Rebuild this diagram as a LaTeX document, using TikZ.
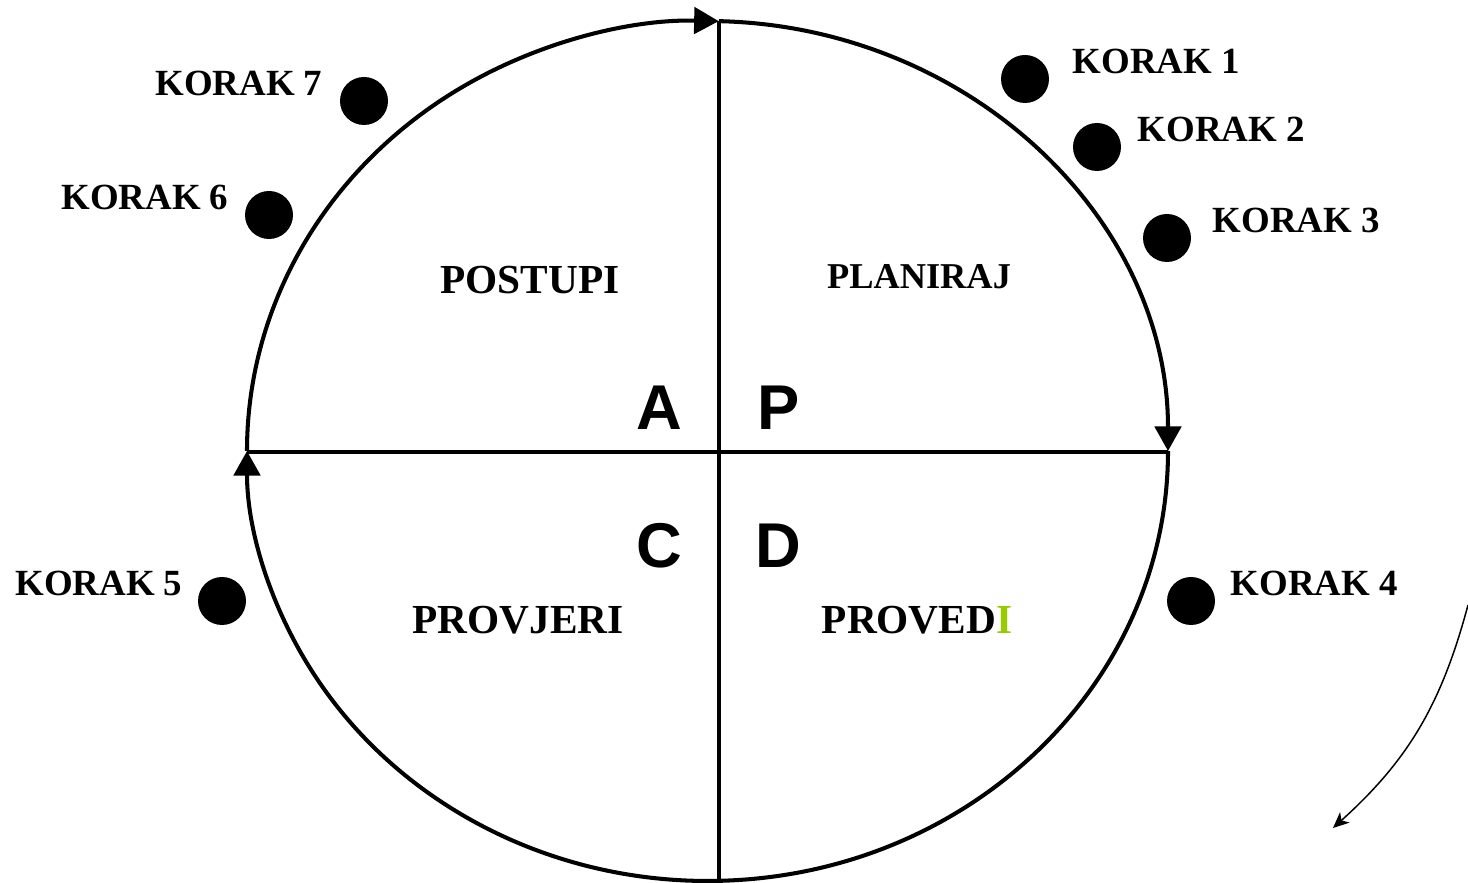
\documentclass[tikz,border=0pt]{standalone}
\usepackage{fontspec}
\setmainfont{Liberation Serif}
\newfontfamily\arialfont{Liberation Sans}
\usetikzlibrary{arrows.meta,positioning}
\definecolor{igreen}{HTML}{99CC00}
\begin{document}
\begin{tikzpicture}[x=0.2mm,y=0.2mm,
    dot/.style={circle,fill=black,inner sep=0pt,minimum size=9.6mm},
    korak/.style={inner sep=0pt,font=\fontsize{21}{21}\selectfont\bfseries},
    faza/.style={anchor=base,inner sep=0pt,font=\fontsize{23.5}{23.5}\selectfont\bfseries},
    slovo/.style={inner sep=0pt,font=\arialfont\fontsize{36}{36}\selectfont\bfseries},
    tip/.style={-{Triangle[length=14pt,width=15pt]}},
    rim/.style={x radius=460.5,y radius=430}]
                \useasboundingbox (0,0) rectangle (1468,883);
                %% circle, drawn in four quarters
                \coordinate (o) at (707.5,432);
                \begin{scope}[line width=2.3pt]
                \draw[tip] (o) ++(180:460.5 and 430) arc[rim,start angle=180,end angle=88.6];
                \draw[tip] (o) ++(88.6:460.5 and 430) arc[rim,start angle=88.6,end angle=0];
                \draw (o) ++(0:460.5 and 430) arc[rim,start angle=0,end angle=-88.6];
                \draw[tip] (o) ++(-88.6:460.5 and 430) arc[rim,start angle=-88.6,end angle=-180];
                %% cross
                \draw (719,862) -- (719,0);
                \draw (247,431) -- (1168,431);
                \end{scope}
                %% phases
                \node[faza] (postupi) at (530,589) {POSTUPI};
                \node[faza,font=\fontsize{20.7}{20.7}\selectfont\bfseries] (planiraj) at (919,594) {PLANIRAJ};
                \node[faza] (provjeri) at (518,249) {PROVJERI};
                \node[faza] (provedi) at (917,249) {PROVED\textcolor{igreen}{I}};
                \node[slovo] (A) at (659,475) {A};
                \node[slovo] (P) at (779,475) {P};
                \node[slovo] (C) at (659,337) {C};
                \node[slovo] (D) at (778,337) {D};
                %% steps
                \node[dot] (k1) at (1025,804) {};
                \node[dot] (k2) at (1097,736) {};
                \node[dot] (k3) at (1167,645) {};
                \node[dot] (k4) at (1191,282) {};
                \node[dot] (k5) at (222,282) {};
                \node[dot] (k6) at (269,668) {};
                \node[dot] (k7) at (364,782) {};
                \node[korak,right=6mm of k1.north east,anchor=west] {KORAK 1};
                \node[korak,right=4.6mm of k2.north east,anchor=west] {KORAK 2};
                \node[korak,right=5.6mm of k3.north east,anchor=west] {KORAK 3};
                \node[korak,right=4.4mm of k4.north east,anchor=west] {KORAK 4};
                \node[korak,left=4.4mm of k5.north west,anchor=east] {KORAK 5};
                \node[korak,left=4.6mm of k6.north west,anchor=east] {KORAK 6};
                \node[korak,left=4.8mm of k7.north west,anchor=east] {KORAK 7};
                %% direction
                \coordinate (s) at (1468,278);
                \coordinate (e) at (1333,55);
                \draw[line width=0.85pt,-{Stealth[length=9pt,width=8pt,inset=2.5pt]}] (s) to[out=-105,in=42] (e);
            \end{tikzpicture}
\end{document}
